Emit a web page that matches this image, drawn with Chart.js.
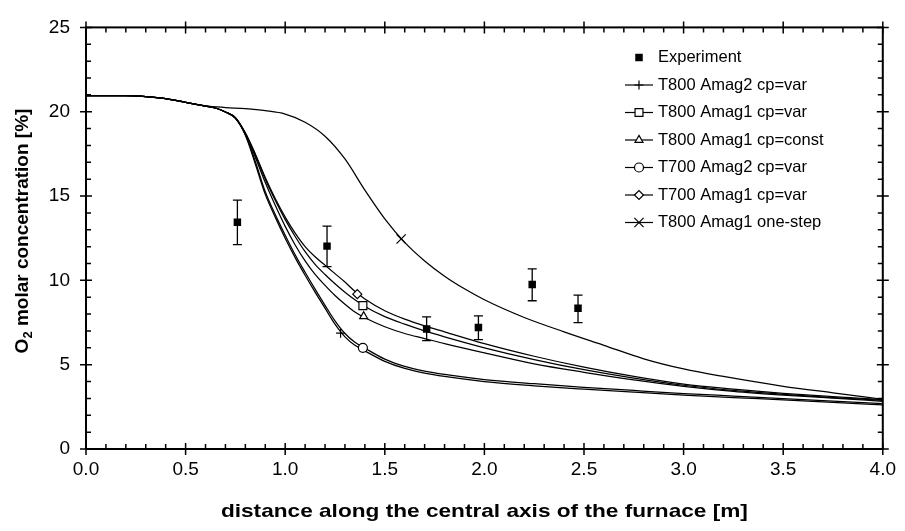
<!DOCTYPE html>
<html>
<head>
<meta charset="utf-8">
<title>O2 molar concentration along the furnace axis</title>
<script src="https://cdn.jsdelivr.net/npm/chart.js@4.4.1/dist/chart.umd.min.js"></script>
<style>
html,body{margin:0;padding:0;background:#ffffff;}
#box{position:relative;width:905px;height:531px;}
canvas{display:block;}
</style>
</head>
<body>
<div id="box"><canvas id="chart" width="905" height="531"></canvas></div>
<script>
// ---------------- data ----------------
const xModel = [0, 0.2, 0.3, 0.4, 0.5, 0.6, 0.65, 0.7, 0.75, 0.8, 0.85, 0.9, 0.95, 1.0, 1.05, 1.1, 1.15, 1.2, 1.25, 1.3, 1.35, 1.4, 1.5, 1.6, 1.7, 1.8, 2.0, 2.25, 2.5, 2.75, 3.0, 3.25, 3.5, 3.75, 4.0];
const yT800Amag2Var   = [20.95, 20.95, 20.9, 20.78, 20.55, 20.33, 20.22, 19.98, 19.6, 18.6, 16.9, 15.1, 13.75, 12.5, 11.35, 10.3, 9.3, 8.35, 7.4, 6.65, 6.15, 5.82, 5.2, 4.78, 4.5, 4.3, 4.0, 3.75, 3.55, 3.37, 3.2, 3.05, 2.91, 2.76, 2.62];
const yT800Amag1Var   = [20.95, 20.95, 20.9, 20.78, 20.55, 20.33, 20.22, 19.98, 19.64, 18.72, 17.45, 16.0, 14.75, 13.6, 12.6, 11.7, 10.95, 10.35, 9.8, 9.3, 8.85, 8.45, 7.85, 7.4, 7.0, 6.65, 6.0, 5.3, 4.7, 4.2, 3.78, 3.47, 3.24, 3.05, 2.88];
const yT800Amag1Const = [20.95, 20.95, 20.9, 20.78, 20.55, 20.33, 20.22, 19.98, 19.63, 18.68, 17.3, 15.8, 14.45, 13.2, 12.1, 11.15, 10.35, 9.7, 9.1, 8.58, 8.12, 7.78, 7.25, 6.85, 6.55, 6.25, 5.7, 5.05, 4.55, 4.1, 3.72, 3.42, 3.2, 3.02, 2.83];
const yT700Amag2Var   = [20.95, 20.95, 20.9, 20.78, 20.55, 20.33, 20.22, 19.98, 19.62, 18.65, 17.05, 15.25, 13.9, 12.68, 11.52, 10.48, 9.48, 8.52, 7.6, 6.85, 6.33, 5.98, 5.33, 4.9, 4.62, 4.42, 4.12, 3.87, 3.66, 3.47, 3.29, 3.14, 2.99, 2.84, 2.69];
const yT700Amag1Var   = [20.95, 20.95, 20.9, 20.78, 20.55, 20.33, 20.22, 19.98, 19.65, 18.75, 17.5, 16.1, 14.85, 13.75, 12.8, 12.0, 11.4, 10.9, 10.4, 9.9, 9.35, 8.9, 8.2, 7.7, 7.3, 6.95, 6.25, 5.5, 4.85, 4.3, 3.85, 3.55, 3.3, 3.1, 2.93];
const xOneStep = [0, 0.2, 0.3, 0.4, 0.5, 0.6, 0.7, 0.8, 0.9, 1.0, 1.1, 1.2, 1.3, 1.4, 1.5, 1.6, 1.7, 1.8, 1.9, 2.0, 2.2, 2.4, 2.6, 2.8, 3.0, 3.2, 3.5, 3.75, 4.0];
const yT800Amag1OneStep = [20.95, 20.95, 20.9, 20.78, 20.55, 20.35, 20.25, 20.18, 20.06, 19.86, 19.38, 18.55, 17.2, 15.35, 13.65, 12.25, 11.15, 10.25, 9.5, 8.85, 7.8, 6.95, 6.15, 5.35, 4.75, 4.3, 3.72, 3.33, 2.95];

const seriesLabels = ['T800 Amag2 cp=var', 'T800 Amag1 cp=var', 'T800 Amag1 cp=const', 'T700 Amag2 cp=var', 'T700 Amag1 cp=var', 'T800 Amag1 one-step'];
// one symbol per curve, placed where the reference shows it
const markerX = [1.278, 1.39, 1.394, 1.39, 1.362, 1.582];
const markerY = [6.87, 8.5, 7.87, 6.0, 9.18, 12.45];

const expLabel = 'Experiment';
const expX    = [0.76, 1.21, 1.71, 1.97, 2.24, 2.47];
const expY    = [13.45, 12.03, 7.12, 7.2, 9.76, 8.35];
const expLow  = [12.12, 10.81, 6.43, 6.48, 8.79, 7.49];
const expHigh = [14.76, 13.22, 7.83, 7.89, 10.68, 9.12];

const xTickValues = [0, 0.5, 1, 1.5, 2, 2.5, 3, 3.5, 4];
const xTickLabels = ['0.0', '0.5', '1.0', '1.5', '2.0', '2.5', '3.0', '3.5', '4.0'];
const yTickValues = [0, 5, 10, 15, 20, 25];
const yTickLabels = ['0', '5', '10', '15', '20', '25'];
const xTitle = 'distance along the central axis of the furnace [m]';
const yTitleMain = 'O', yTitleSub = '2', yTitleRest = ' molar concentration [%]';

// ---------------- styles ----------------
const seriesX = [xModel, xModel, xModel, xModel, xModel, xOneStep];
const seriesY = [yT800Amag2Var, yT800Amag1Var, yT800Amag1Const, yT700Amag2Var, yT700Amag1Var, yT800Amag1OneStep];
const markerStyles = ['cross', 'rect', 'triangle', 'circle', 'rectRot', 'crossRot'];
const markerRadii  = [4.5, 5.6, 4.6, 4.5, 4.5, 6.5];
const FONT = "'Liberation Sans', Arial, Helvetica, sans-serif";

const datasets = [];
seriesLabels.forEach((lab, i) => {
  datasets.push({
    label: lab,
    data: seriesX[i].map((x, k) => ({x: x, y: seriesY[i][k]})),
    showLine: true, fill: false,
    borderColor: '#000', borderWidth: 1.25,
    pointRadius: 0, pointHoverRadius: 0,
    cubicInterpolationMode: 'monotone',
    order: 3
  });
});
seriesLabels.forEach((lab, i) => {
  datasets.push({
    label: lab + ' symbol',
    data: [{x: markerX[i], y: markerY[i]}],
    showLine: false,
    pointStyle: markerStyles[i], pointRadius: markerRadii[i],
    borderColor: '#000', backgroundColor: '#fff', borderWidth: 1.2,
    order: 2
  });
});
datasets.push({
  label: expLabel,
  data: expX.map((x, k) => ({x: x, y: expY[k]})),
  showLine: false,
  pointStyle: 'rect', pointRadius: 5.3,
  borderColor: '#000', backgroundColor: '#000', borderWidth: 0,
  order: 1
});

function drawMarker(ctx, style, r, x, y, filled) {
  ctx.beginPath();
  if (style === 'cross') {
    ctx.moveTo(x - r, y); ctx.lineTo(x + r, y); ctx.moveTo(x, y - r); ctx.lineTo(x, y + r);
  } else if (style === 'crossRot') {
    const d = r * Math.SQRT1_2;
    ctx.moveTo(x - d, y - d); ctx.lineTo(x + d, y + d); ctx.moveTo(x + d, y - d); ctx.lineTo(x - d, y + d);
  } else if (style === 'rect') {
    const h = r * Math.SQRT1_2; ctx.rect(x - h, y - h, 2 * h, 2 * h);
  } else if (style === 'triangle') {
    ctx.moveTo(x, y - r);
    ctx.lineTo(x + r * Math.sin(2 * Math.PI / 3), y - r * Math.cos(2 * Math.PI / 3));
    ctx.lineTo(x + r * Math.sin(4 * Math.PI / 3), y - r * Math.cos(4 * Math.PI / 3));
    ctx.closePath();
  } else if (style === 'circle') {
    ctx.arc(x, y, r, 0, 2 * Math.PI);
  } else if (style === 'rectRot') {
    ctx.moveTo(x - r, y); ctx.lineTo(x, y - r); ctx.lineTo(x + r, y); ctx.lineTo(x, y + r); ctx.closePath();
  }
  ctx.fillStyle = filled ? '#000' : '#fff';
  if (style !== 'cross' && style !== 'crossRot') ctx.fill();
  if (!filled) ctx.stroke();
}

const errorBars = {
  id: 'errorBars',
  afterDatasetsDraw(chart) {
    const {ctx, scales: {x, y}} = chart;
    ctx.save();
    ctx.strokeStyle = '#000'; ctx.lineWidth = 1.3;
    expX.forEach((v, k) => {
      const px = x.getPixelForValue(v);
      const y1 = y.getPixelForValue(expLow[k]), y2 = y.getPixelForValue(expHigh[k]);
      ctx.beginPath();
      ctx.moveTo(px, y1); ctx.lineTo(px, y2);
      ctx.moveTo(px - 4.5, y1); ctx.lineTo(px + 4.5, y1);
      ctx.moveTo(px - 4.5, y2); ctx.lineTo(px + 4.5, y2);
      ctx.stroke();
    });
    ctx.restore();
  }
};

const frameAndTicks = {
  id: 'frameAndTicks',
  afterDraw(chart) {
    const {ctx, chartArea: {left, right, top, bottom}, scales: {x, y}} = chart;
    ctx.save();
    ctx.strokeStyle = '#000';
    ctx.lineWidth = 1.5;
    ctx.beginPath();
    for (let i = 0; i <= 40; i++) {
      const px = x.getPixelForValue(i / 10);
      if (i % 5 === 0) {
        ctx.moveTo(px, bottom + 6); ctx.lineTo(px, bottom - 6);
        ctx.moveTo(px, top - 6); ctx.lineTo(px, top + 6);
      } else {
        ctx.moveTo(px, bottom); ctx.lineTo(px, bottom - 5);
        ctx.moveTo(px, top); ctx.lineTo(px, top + 5);
      }
    }
    for (let i = 0; i <= 25; i++) {
      const py = y.getPixelForValue(i);
      if (i % 5 === 0) {
        ctx.moveTo(left - 6, py); ctx.lineTo(left + 6, py);
        ctx.moveTo(right - 6, py); ctx.lineTo(right + 6, py);
      } else {
        ctx.moveTo(left, py); ctx.lineTo(left + 5, py);
        ctx.moveTo(right - 5, py); ctx.lineTo(right, py);
      }
    }
    ctx.stroke();
    ctx.lineWidth = 2;
    ctx.strokeRect(left, top, right - left, bottom - top);

    // axis titles
    ctx.fillStyle = '#000';
    ctx.textBaseline = 'alphabetic';
    // x title
    ctx.font = 'bold 19px ' + FONT;
    const w = ctx.measureText(xTitle).width;
    const sx = 527 / w;
    ctx.save();
    ctx.translate((left + right) / 2, 517);
    ctx.scale(sx, 1);
    ctx.textAlign = 'center';
    ctx.fillText(xTitle, 0, 0);
    ctx.restore();
    // y title with subscript
    ctx.save();
    ctx.translate(28, 231);
    ctx.rotate(-Math.PI / 2);
    ctx.textAlign = 'left';
    ctx.font = 'bold 19px ' + FONT;
    const wMain = ctx.measureText(yTitleMain).width;
    const wRest = ctx.measureText(yTitleRest).width;
    ctx.font = 'bold 13px ' + FONT;
    const wSub = ctx.measureText(yTitleSub).width;
    let cx = -(wMain + wSub + wRest) / 2;
    ctx.font = 'bold 19px ' + FONT;
    ctx.fillText(yTitleMain, cx, 0); cx += wMain;
    ctx.font = 'bold 13px ' + FONT;
    ctx.fillText(yTitleSub, cx, 4); cx += wSub;
    ctx.font = 'bold 19px ' + FONT;
    ctx.fillText(yTitleRest, cx, 0);
    ctx.restore();

    // legend
    const rowY0 = 57.5, rowDy = 27.5, sampleL = 625, sampleR = 653, markX = 639, textX = 658;
    ctx.font = '16.5px ' + FONT;
    ctx.textAlign = 'left';
    ctx.textBaseline = 'middle';
    ctx.lineWidth = 1.2;
    ctx.fillStyle = '#000';
    ctx.fillRect(markX - 3.75, rowY0 - 3.75, 7.5, 7.5);
    ctx.fillText(expLabel, textX, rowY0);
    seriesLabels.forEach((lab, i) => {
      const ry = rowY0 + rowDy * (i + 1);
      ctx.beginPath();
      ctx.moveTo(sampleL, ry); ctx.lineTo(sampleR, ry);
      ctx.stroke();
      drawMarker(ctx, markerStyles[i], markerRadii[i], markX, ry, false);
      ctx.fillStyle = '#000';
      ctx.fillText(lab, textX, ry);
    });
    ctx.restore();
  }
};

new Chart(document.getElementById('chart'), {
  type: 'scatter',
  data: {datasets: datasets},
  options: {
    responsive: false,
    animation: false,
    devicePixelRatio: 1,
    layout: {padding: {left: 0, right: 20, top: 16, bottom: 0}},
    plugins: {legend: {display: false}, tooltip: {enabled: false}},
    scales: {
      x: {
        type: 'linear', position: 'bottom', min: 0, max: 4,
        grid: {display: false, drawTicks: false, tickLength: 0},
        border: {display: false},
        afterBuildTicks: s => { s.ticks = xTickValues.map(v => ({value: v})); },
        afterFit: s => { s.height = 82; },
        ticks: {
          autoSkip: false, maxRotation: 0, padding: 9, color: '#000',
          font: {family: FONT, size: 19},
          callback: v => xTickLabels[xTickValues.indexOf(v)]
        }
      },
      y: {
        type: 'linear', position: 'left', min: 0, max: 25,
        grid: {display: false, drawTicks: false, tickLength: 0},
        border: {display: false},
        afterBuildTicks: s => { s.ticks = yTickValues.map(v => ({value: v})); },
        afterFit: s => { s.width = 86; },
        ticks: {
          autoSkip: false, padding: 16, color: '#000',
          font: {family: FONT, size: 19},
          callback: v => yTickLabels[yTickValues.indexOf(v)]
        }
      }
    }
  },
  plugins: [errorBars, frameAndTicks]
});
</script>
</body>
</html>
